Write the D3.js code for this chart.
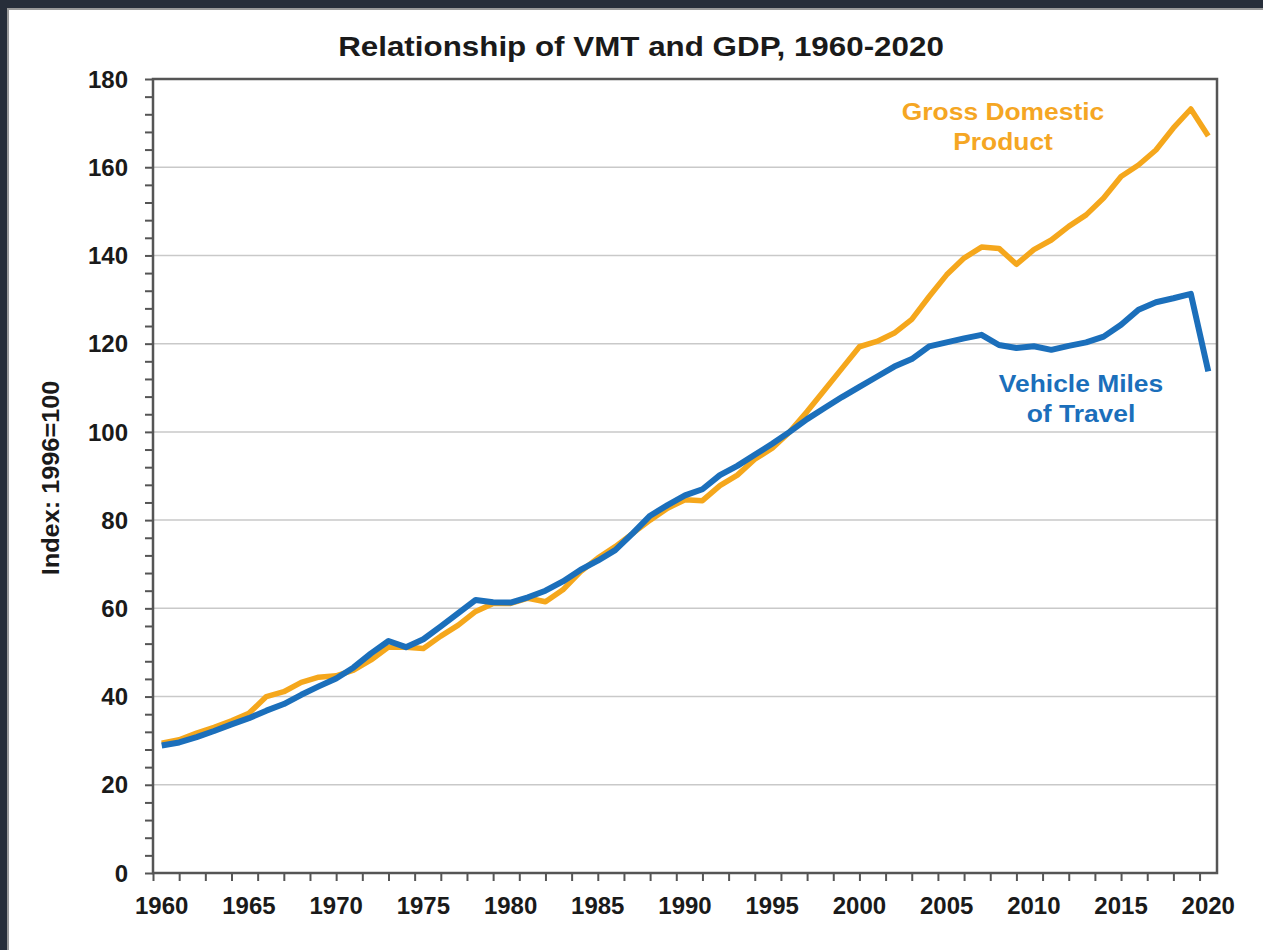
<!DOCTYPE html>
<html>
<head>
<meta charset="utf-8">
<script src="https://cdn.jsdelivr.net/npm/d3@7"></script>
<style>
  html, body { margin: 0; padding: 0; background: #272e3a; }
  svg { display: block; }
  text { font-family: "Liberation Sans", Arial, sans-serif; font-weight: bold; }
</style>
</head>
<body>
<div id="chart"></div>
<script>
// Index values, 1996 = 100
var firstYear = 1960, lastYear = 2020;
var years = d3.range(firstYear, lastYear + 1);

var gdp = [29.4, 30.2, 31.7, 33.0, 34.5, 36.2, 40.0, 41.1, 43.2, 44.4,
           44.7, 46.0, 48.3, 51.2, 51.2, 50.9, 53.7, 56.2, 59.3, 61.1,
           61.1, 62.3, 61.5, 64.2, 68.3, 71.4, 74.0, 77.0, 80.0, 82.7,
           84.6, 84.4, 87.8, 90.2, 93.8, 96.3, 100, 104.6, 109.5, 114.4,
           119.3, 120.5, 122.4, 125.5, 130.7, 135.6, 139.4, 141.9, 141.6, 138.0,
           141.3, 143.5, 146.6, 149.2, 153.0, 157.9, 160.5, 163.9, 168.9, 173.2,
           167.1];

var vmt = [28.9, 29.6, 30.8, 32.2, 33.7, 35.1, 36.8, 38.3, 40.4, 42.3,
           44.1, 46.6, 49.8, 52.6, 51.2, 53.0, 55.9, 58.9, 61.9, 61.4,
           61.3, 62.5, 64.0, 66.1, 68.7, 70.8, 73.2, 77.0, 81.0, 83.4,
           85.6, 87.0, 90.2, 92.3, 94.8, 97.3, 100, 102.9, 105.4, 107.9,
           110.2, 112.5, 114.8, 116.5, 119.4, 120.3, 121.2, 122.0, 119.7, 119.0,
           119.4, 118.6, 119.5, 120.3, 121.6, 124.3, 127.7, 129.4, 130.3, 131.3,
           113.7];

var yearLabels = [1960, 1965, 1970, 1975, 1980, 1985, 1990, 1995, 2000, 2005, 2010, 2015, 2020];
var yLabels = [0, 20, 40, 60, 80, 100, 120, 140, 160, 180];

var width = 1263, height = 950;
var plot = { left: 153, right: 1217, top: 79, bottom: 873 };

var svg = d3.select("#chart").append("svg")
    .attr("width", width)
    .attr("height", height);

// white panel with thin grey edge
svg.append("rect")
    .attr("x", 8).attr("y", 9)
    .attr("width", width).attr("height", height)
    .attr("fill", "#ffffff")
    .attr("stroke", "#9a9a9a")
    .attr("stroke-width", 2);

var x = d3.scaleLinear()
    .domain([firstYear - 0.5, lastYear + 0.5])
    .range([plot.left, plot.right]);

var y = d3.scaleLinear()
    .domain([0, 180])
    .range([plot.bottom, plot.top]);

// gridlines
svg.append("g")
    .selectAll("line")
    .data(yLabels.slice(1, -1))
    .enter().append("line")
    .attr("x1", plot.left).attr("x2", plot.right)
    .attr("y1", function(d) { return y(d); })
    .attr("y2", function(d) { return y(d); })
    .attr("stroke", "#c9c9c9")
    .attr("stroke-width", 1.5);

var axisColor = "#555555";

// y axis: ticks every 4
var yAxis = svg.append("g")
    .attr("transform", "translate(" + plot.left + ",0)")
    .call(d3.axisLeft(y).tickValues(d3.range(0, 181, 4)).tickSize(8).tickFormat(""));
yAxis.select(".domain").remove();
yAxis.selectAll("line").attr("stroke", axisColor).attr("stroke-width", 2);

svg.append("g")
    .selectAll("text")
    .data(yLabels)
    .enter().append("text")
    .attr("x", 128)
    .attr("y", function(d) { return y(d); })
    .attr("dy", "0.36em")
    .attr("text-anchor", "end")
    .attr("font-size", 24)
    .attr("fill", "#1a1a1a")
    .text(function(d) { return d; });

// x axis: minor ticks every 1.5 categories, labels every 5 years
var xAxis = svg.append("g")
    .attr("transform", "translate(0," + plot.bottom + ")")
    .call(d3.axisBottom(x).tickValues(d3.range(firstYear - 0.5, lastYear, 1.5)).tickSize(8).tickFormat(""));
xAxis.select(".domain").remove();
xAxis.selectAll("line").attr("stroke", axisColor).attr("stroke-width", 2);

svg.append("g")
    .selectAll("text")
    .data(yearLabels)
    .enter().append("text")
    .attr("x", function(d) { return x(d); })
    .attr("y", 914)
    .attr("text-anchor", "middle")
    .attr("font-size", 24)
    .attr("fill", "#1a1a1a")
    .text(function(d) { return d; });

// plot frame
svg.append("rect")
    .attr("x", plot.left).attr("y", plot.top)
    .attr("width", plot.right - plot.left)
    .attr("height", plot.bottom - plot.top)
    .attr("fill", "none")
    .attr("stroke", axisColor)
    .attr("stroke-width", 2.5);

// lines
var line = d3.line()
    .x(function(d, i) { return x(years[i]); })
    .y(function(d) { return y(d); });

svg.append("path")
    .datum(gdp)
    .attr("d", line)
    .attr("fill", "none")
    .attr("stroke", "#f5a71c")
    .attr("stroke-width", 5.5)
    .attr("stroke-linejoin", "round");

svg.append("path")
    .datum(vmt)
    .attr("d", line)
    .attr("fill", "none")
    .attr("stroke", "#1b6fbb")
    .attr("stroke-width", 6)
    .attr("stroke-linejoin", "round");

// title
svg.append("text")
    .attr("transform", "translate(641,56) scale(1.12,1)")
    .attr("text-anchor", "middle")
    .attr("font-size", 28)
    .attr("fill", "#1a1a1a")
    .text("Relationship of VMT and GDP, 1960-2020");

// y axis title
svg.append("text")
    .attr("transform", "translate(59,478) rotate(-90) scale(1.1,1)")
    .attr("text-anchor", "middle")
    .attr("font-size", 23)
    .attr("fill", "#1a1a1a")
    .text("Index: 1996=100");

// series labels
function label(lines, cx, y0, color) {
  lines.forEach(function(t, i) {
    svg.append("text")
      .attr("transform", "translate(" + cx + "," + (y0 + i * 30) + ") scale(1.1,1)")
      .attr("text-anchor", "middle")
      .attr("font-size", 24)
      .attr("fill", color)
      .text(t);
  });
}
label(["Gross Domestic", "Product"], 1003, 120, "#f5a623");
label(["Vehicle Miles", "of Travel"], 1081, 392, "#1b6fbb");
</script>
</body>
</html>
